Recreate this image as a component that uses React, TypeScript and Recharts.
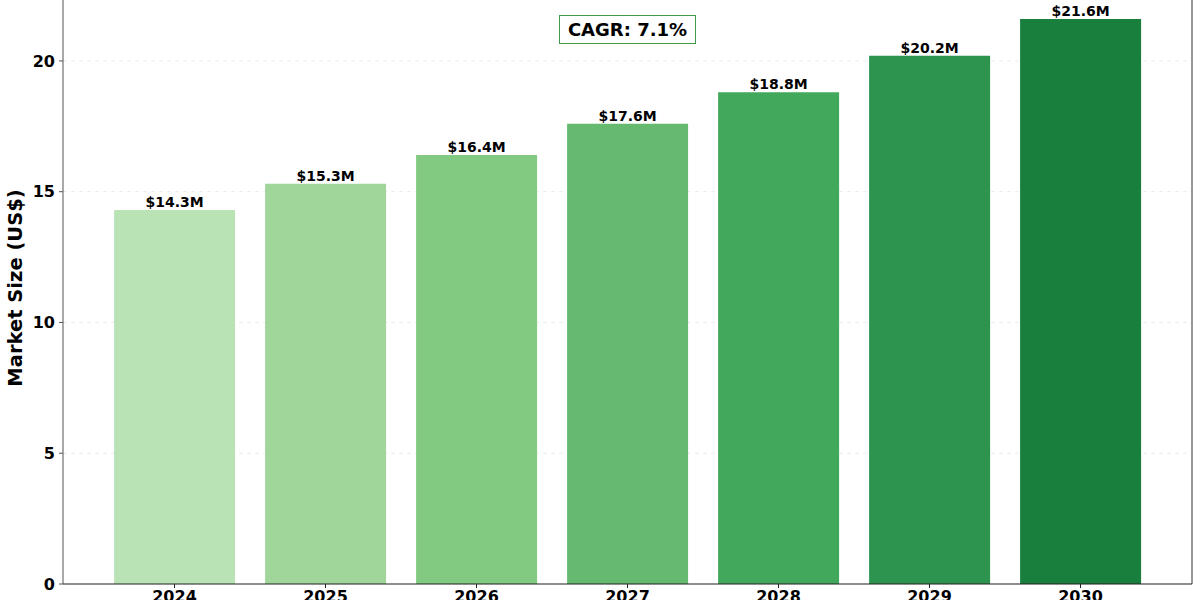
import React from 'react';
import { BarChart, Bar, XAxis, YAxis, CartesianGrid, Cell, LabelList } from 'recharts';

const years = ['2024', '2025', '2026', '2027', '2028', '2029', '2030'];
const marketSize = [14.3, 15.3, 16.4, 17.6, 18.8, 20.2, 21.6];
const barColors = ['#bae3b5', '#a0d69a', '#82ca81', '#65ba6f', '#42a85c', '#2c944f', '#187f3c'];
const yTicks = [0, 5, 10, 15, 20];
const cagrText = 'CAGR: 7.1%';

const FONT = '"DejaVu Sans", sans-serif';

export default function App() {
  const data = years.map((year, i) => ({ year, value: marketSize[i] }));

  // grid only at the labelled ticks (skip the top edge of the plot)
  const gridRows = (props: any) => {
    const scale = props?.yAxis?.scale;
    if (typeof scale === 'function') return yTicks.map((t) => scale(t));
    if (scale && typeof scale.map === 'function') return yTicks.map((t) => scale.map(t));
    return [];
  };

  return (
    <div style={{ position: 'absolute', left: 0, top: 0, width: 1200, height: 600, fontFamily: FONT }}>
      <BarChart
        width={1200}
        height={600}
        data={data}
        margin={{ top: 0, right: 0, bottom: 0, left: 0 }}
        barCategoryGap="10%"
      >
        <CartesianGrid
          yAxisId="left"
          vertical={false}
          strokeDasharray="4 4"
          stroke="#ececec"
          horizontalCoordinatesGenerator={gridRows}
        />
        <XAxis
          dataKey="year"
          height={16}
          padding={{ left: 36, right: 36 }}
          tickSize={4}
          tickMargin={3}
          axisLine={{ stroke: '#222' }}
          tickLine={{ stroke: '#222' }}
          tick={{ fill: '#000', fontSize: 16, fontWeight: 'bold', fontFamily: FONT }}
        />
        <YAxis
          yAxisId="left"
          width={63}
          domain={[0, 22.33]}
          ticks={yTicks}
          allowDataOverflow
          tickSize={4}
          tickMargin={4}
          axisLine={{ stroke: '#555' }}
          tickLine={{ stroke: '#555' }}
          tick={{ fill: '#000', fontSize: 16, fontWeight: 'bold', fontFamily: FONT }}
          label={{
            content: () => (
              <text
                x={22}
                y={288}
                transform="rotate(-90, 22, 288)"
                textAnchor="middle"
                fill="#000"
                fontSize={19.5}
                fontWeight="bold"
                fontFamily={FONT}
              >
                Market Size (US$)
              </text>
            ),
          }}
        />
        <YAxis
          yAxisId="right"
          orientation="right"
          width={8}
          tick={false}
          tickLine={false}
          axisLine={{ stroke: '#333' }}
        />
        <Bar yAxisId="left" dataKey="value" isAnimationActive={false}>
          {data.map((d, i) => (
            <Cell key={d.year} fill={barColors[i]} />
          ))}
          <LabelList
            dataKey="value"
            position="top"
            offset={3}
            formatter={(v: any) => `$${Number(v).toFixed(1)}M`}
            style={{ fill: '#000', fontSize: 14, fontWeight: 'bold', fontFamily: FONT }}
          />
        </Bar>
      </BarChart>
      <div
        style={{
          position: 'absolute',
          left: 559,
          top: 15,
          width: 135,
          height: 27,
          border: '1px solid #3d9a4c',
          background: '#fff',
          display: 'flex',
          alignItems: 'center',
          justifyContent: 'center',
          fontSize: 18,
          fontWeight: 'bold',
          color: '#000',
          fontFamily: FONT,
        }}
      >
        {cagrText}
      </div>
    </div>
  );
}
